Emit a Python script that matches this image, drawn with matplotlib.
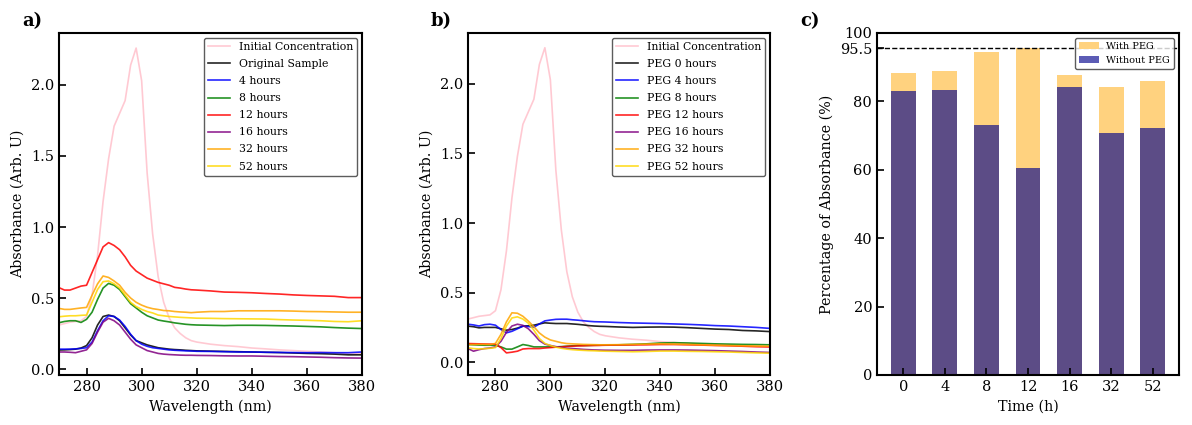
import matplotlib
matplotlib.use("Agg")
import matplotlib.pyplot as plt

plt.rcParams['font.family'] = ['DejaVu Serif']

wl = [270, 272, 274, 276, 278, 280, 282, 284, 286, 288, 290, 292, 294, 296, 298, 300,
      302, 304, 306, 308, 310, 312, 314, 316, 318, 320, 325, 330, 335, 340, 345, 350,
      355, 360, 365, 370, 375, 380]

initial = [0.31, 0.32, 0.33, 0.335, 0.34, 0.37, 0.52, 0.80, 1.18, 1.48, 1.71, 1.80, 1.89, 2.14, 2.26, 2.03,
           1.38, 0.95, 0.65, 0.47, 0.36, 0.29, 0.25, 0.22, 0.20, 0.19, 0.175, 0.165, 0.158, 0.148, 0.142, 0.135,
           0.13, 0.125, 0.12, 0.115, 0.11, 0.108]

# Panel a
a_original = [0.134, 0.135, 0.137, 0.14, 0.148, 0.165, 0.22, 0.31, 0.37, 0.38, 0.37, 0.34, 0.29, 0.24, 0.20, 0.185,
              0.17, 0.16, 0.15, 0.145, 0.14, 0.137, 0.135, 0.132, 0.13, 0.128, 0.126, 0.124, 0.122, 0.12, 0.118, 0.116,
              0.113, 0.11, 0.108, 0.105, 0.10, 0.10]
a_4h = [0.14, 0.14, 0.14, 0.142, 0.145, 0.15, 0.19, 0.27, 0.34, 0.375, 0.37, 0.345, 0.30, 0.245, 0.20, 0.175,
        0.16, 0.15, 0.145, 0.14, 0.135, 0.132, 0.13, 0.128, 0.127, 0.125, 0.124, 0.122, 0.12, 0.12, 0.118, 0.117,
        0.116, 0.115, 0.116, 0.115, 0.115, 0.12]
a_8h = [0.326, 0.335, 0.34, 0.34, 0.328, 0.35, 0.40, 0.49, 0.57, 0.603, 0.59, 0.56, 0.51, 0.46, 0.43, 0.40,
        0.375, 0.36, 0.345, 0.338, 0.332, 0.325, 0.32, 0.315, 0.312, 0.31, 0.308, 0.306, 0.308, 0.308, 0.307, 0.305,
        0.303, 0.30, 0.297, 0.292, 0.288, 0.285]
a_12h = [0.573, 0.556, 0.556, 0.57, 0.584, 0.59, 0.68, 0.77, 0.86, 0.89, 0.87, 0.84, 0.79, 0.73, 0.69, 0.665,
         0.64, 0.625, 0.61, 0.60, 0.59, 0.575, 0.57, 0.563, 0.558, 0.556, 0.55, 0.542, 0.54, 0.537, 0.532, 0.528,
         0.522, 0.518, 0.515, 0.512, 0.503, 0.503]
a_16h = [0.12, 0.12, 0.118, 0.115, 0.125, 0.135, 0.18, 0.26, 0.33, 0.357, 0.34, 0.31, 0.26, 0.21, 0.17, 0.15,
         0.13, 0.12, 0.11, 0.105, 0.102, 0.10, 0.098, 0.097, 0.097, 0.096, 0.095, 0.093, 0.092, 0.092, 0.09, 0.088,
         0.087, 0.085, 0.083, 0.08, 0.078, 0.077]
a_32h = [0.427, 0.42, 0.42, 0.425, 0.43, 0.434, 0.52, 0.60, 0.655, 0.645, 0.62, 0.59, 0.54, 0.50, 0.47, 0.45,
         0.435, 0.425, 0.419, 0.412, 0.41, 0.405, 0.402, 0.40, 0.397, 0.40, 0.405, 0.405, 0.41, 0.41, 0.41, 0.41,
         0.408, 0.405, 0.404, 0.402, 0.40, 0.40]
a_52h = [0.368, 0.372, 0.375, 0.375, 0.378, 0.38, 0.47, 0.56, 0.615, 0.62, 0.60, 0.57, 0.52, 0.47, 0.44, 0.42,
         0.405, 0.395, 0.38, 0.375, 0.37, 0.367, 0.364, 0.362, 0.36, 0.358, 0.357, 0.355, 0.354, 0.353, 0.352, 0.348,
         0.345, 0.343, 0.34, 0.335, 0.333, 0.34]

# Panel b
b_0h = [0.259, 0.255, 0.247, 0.25, 0.25, 0.25, 0.24, 0.23, 0.235, 0.245, 0.259, 0.262, 0.266, 0.275, 0.283, 0.28,
        0.278, 0.278, 0.278, 0.275, 0.272, 0.268, 0.263, 0.26, 0.258, 0.257, 0.253, 0.25, 0.252, 0.253, 0.252, 0.248,
        0.243, 0.238, 0.235, 0.228, 0.225, 0.22]
b_4h = [0.273, 0.268, 0.26, 0.27, 0.273, 0.266, 0.235, 0.211, 0.222, 0.24, 0.259, 0.256, 0.252, 0.275, 0.297, 0.303,
        0.308, 0.309, 0.309, 0.305, 0.302, 0.298, 0.294, 0.291, 0.29, 0.289, 0.285, 0.282, 0.28, 0.278, 0.275, 0.272,
        0.268, 0.263, 0.26, 0.255, 0.25, 0.243]
b_8h = [0.127, 0.125, 0.123, 0.122, 0.122, 0.122, 0.11, 0.094, 0.094, 0.11, 0.127, 0.12, 0.11, 0.11, 0.11, 0.11,
        0.11, 0.112, 0.115, 0.118, 0.12, 0.12, 0.12, 0.122, 0.122, 0.123, 0.125, 0.128, 0.132, 0.138, 0.14, 0.138,
        0.135, 0.132, 0.13, 0.128, 0.127, 0.125]
b_12h = [0.134, 0.133, 0.132, 0.131, 0.13, 0.13, 0.105, 0.067, 0.072, 0.079, 0.095, 0.098, 0.098, 0.098, 0.102, 0.105,
         0.108, 0.11, 0.113, 0.115, 0.117, 0.118, 0.12, 0.12, 0.121, 0.122, 0.123, 0.124, 0.125, 0.127, 0.127, 0.125,
         0.123, 0.12, 0.118, 0.115, 0.112, 0.11]
b_16h = [0.098, 0.079, 0.09, 0.098, 0.102, 0.11, 0.15, 0.215, 0.26, 0.273, 0.265, 0.24, 0.20, 0.155, 0.13, 0.12,
         0.112, 0.105, 0.10, 0.098, 0.095, 0.092, 0.09, 0.088, 0.087, 0.086, 0.085, 0.085, 0.087, 0.088, 0.088, 0.087,
         0.085, 0.083, 0.08, 0.077, 0.073, 0.07]
b_32h = [0.127, 0.127, 0.128, 0.128, 0.127, 0.135, 0.20, 0.29, 0.355, 0.352, 0.33, 0.295, 0.255, 0.21, 0.18, 0.16,
         0.15, 0.14, 0.134, 0.132, 0.13, 0.128, 0.127, 0.126, 0.125, 0.125, 0.126, 0.128, 0.13, 0.132, 0.13, 0.128,
         0.125, 0.122, 0.12, 0.118, 0.116, 0.115]
b_52h = [0.103, 0.098, 0.095, 0.097, 0.10, 0.105, 0.17, 0.26, 0.318, 0.326, 0.31, 0.28, 0.23, 0.17, 0.135, 0.12,
         0.108, 0.10, 0.094, 0.09, 0.087, 0.085, 0.083, 0.082, 0.08, 0.079, 0.077, 0.075, 0.077, 0.08, 0.08, 0.078,
         0.077, 0.075, 0.073, 0.07, 0.067, 0.065]

a_labels = ["Initial Concentration", "Original Sample", "4 hours", "8 hours",
            "12 hours", "16 hours", "32 hours", "52 hours"]
b_labels = ["Initial Concentration", "PEG 0 hours", "PEG 4 hours", "PEG 8 hours",
            "PEG 12 hours", "PEG 16 hours", "PEG 32 hours", "PEG 52 hours"]
line_colors = ["pink", "black", "blue", "green", "red", "purple", "orange", "gold"]

# Panel c
times = ["0", "4", "8", "12", "16", "32", "52"]
with_peg = [88.4, 89.0, 94.5, 95.5, 87.8, 84.3, 86.0]
without_peg = [83.1, 83.4, 73.2, 60.6, 84.3, 70.7, 72.3]
ref_level = 95.5

fig = plt.figure(figsize=(11.92, 4.25), dpi=100)
W, H = 1192, 425
def add_ax(l, r, t, b):
    return fig.add_axes([l / W, 1 - b / H, (r - l) / W, (b - t) / H])

ax_a = add_ax(59, 362, 33, 375)
ax_b = add_ax(468, 770, 33, 375)
ax_c = add_ax(877, 1179, 33, 375)

def style(ax):
    for s in ax.spines.values():
        s.set_linewidth(1.5)
    ax.tick_params(direction='in', length=5, width=1.2, labelsize=10.5,
                   top=False, right=False)

for ax, series, labels, ylim in [(ax_a, [initial, a_original, a_4h, a_8h, a_12h, a_16h, a_32h, a_52h], a_labels, (-0.042, 2.366)),
                                 (ax_b, [initial, b_0h, b_4h, b_8h, b_12h, b_16h, b_32h, b_52h], b_labels, (-0.092, 2.366))]:
    for ys, lab, col in zip(series, labels, line_colors):
        ax.plot(wl, ys, color=col, lw=1.2, alpha=0.85, label=lab)
    ax.set_xlim(270, 380)
    ax.set_ylim(*ylim)
    ax.set_xticks([280, 300, 320, 340, 360, 380])
    ax.set_yticks([0.0, 0.5, 1.0, 1.5, 2.0])
    ax.set_xlabel("Wavelength (nm)", fontsize=10.3)
    ax.set_ylabel("Absorbance (Arb. U)", fontsize=10.3)
    ax.legend(loc='upper right', fontsize=7.8, labelspacing=0.65, framealpha=0.8,
              edgecolor='#333333', borderaxespad=0.45)
    style(ax)

x = list(range(len(times)))
ax_c.bar(x, with_peg, width=0.6, color='#ffd27f', label='With PEG')
ax_c.bar(x, without_peg, width=0.6, color='darkblue', alpha=0.64, label='Without PEG')
ax_c.axhline(ref_level, color='black', ls='--', lw=1)
ax_c.set_ylim(0, 100)
ax_c.set_yticks([0, 20, 40, 60, 80, 95.5, 100])
ax_c.set_yticklabels(["0", "20", "40", "60", "80", "95.5", "100"])
ax_c.set_xticks(x)
ax_c.set_xticklabels(times)
ax_c.set_xlabel("Time (h)", fontsize=10.3)
ax_c.set_ylabel("Percentage of Absorbance (%)", fontsize=10.3)
ax_c.legend(loc='upper right', fontsize=7, framealpha=0.8, edgecolor='#333333')
style(ax_c)

fig.text(22 / W, 1 - 21 / H, "a)", fontsize=13, fontweight='bold', va='center', ha='left')
fig.text(431 / W, 1 - 21 / H, "b)", fontsize=13, fontweight='bold', va='center', ha='left')
fig.text(800 / W, 1 - 21 / H, "c)", fontsize=13, fontweight='bold', va='center', ha='left')

fig.savefig("out.png", dpi=100)
